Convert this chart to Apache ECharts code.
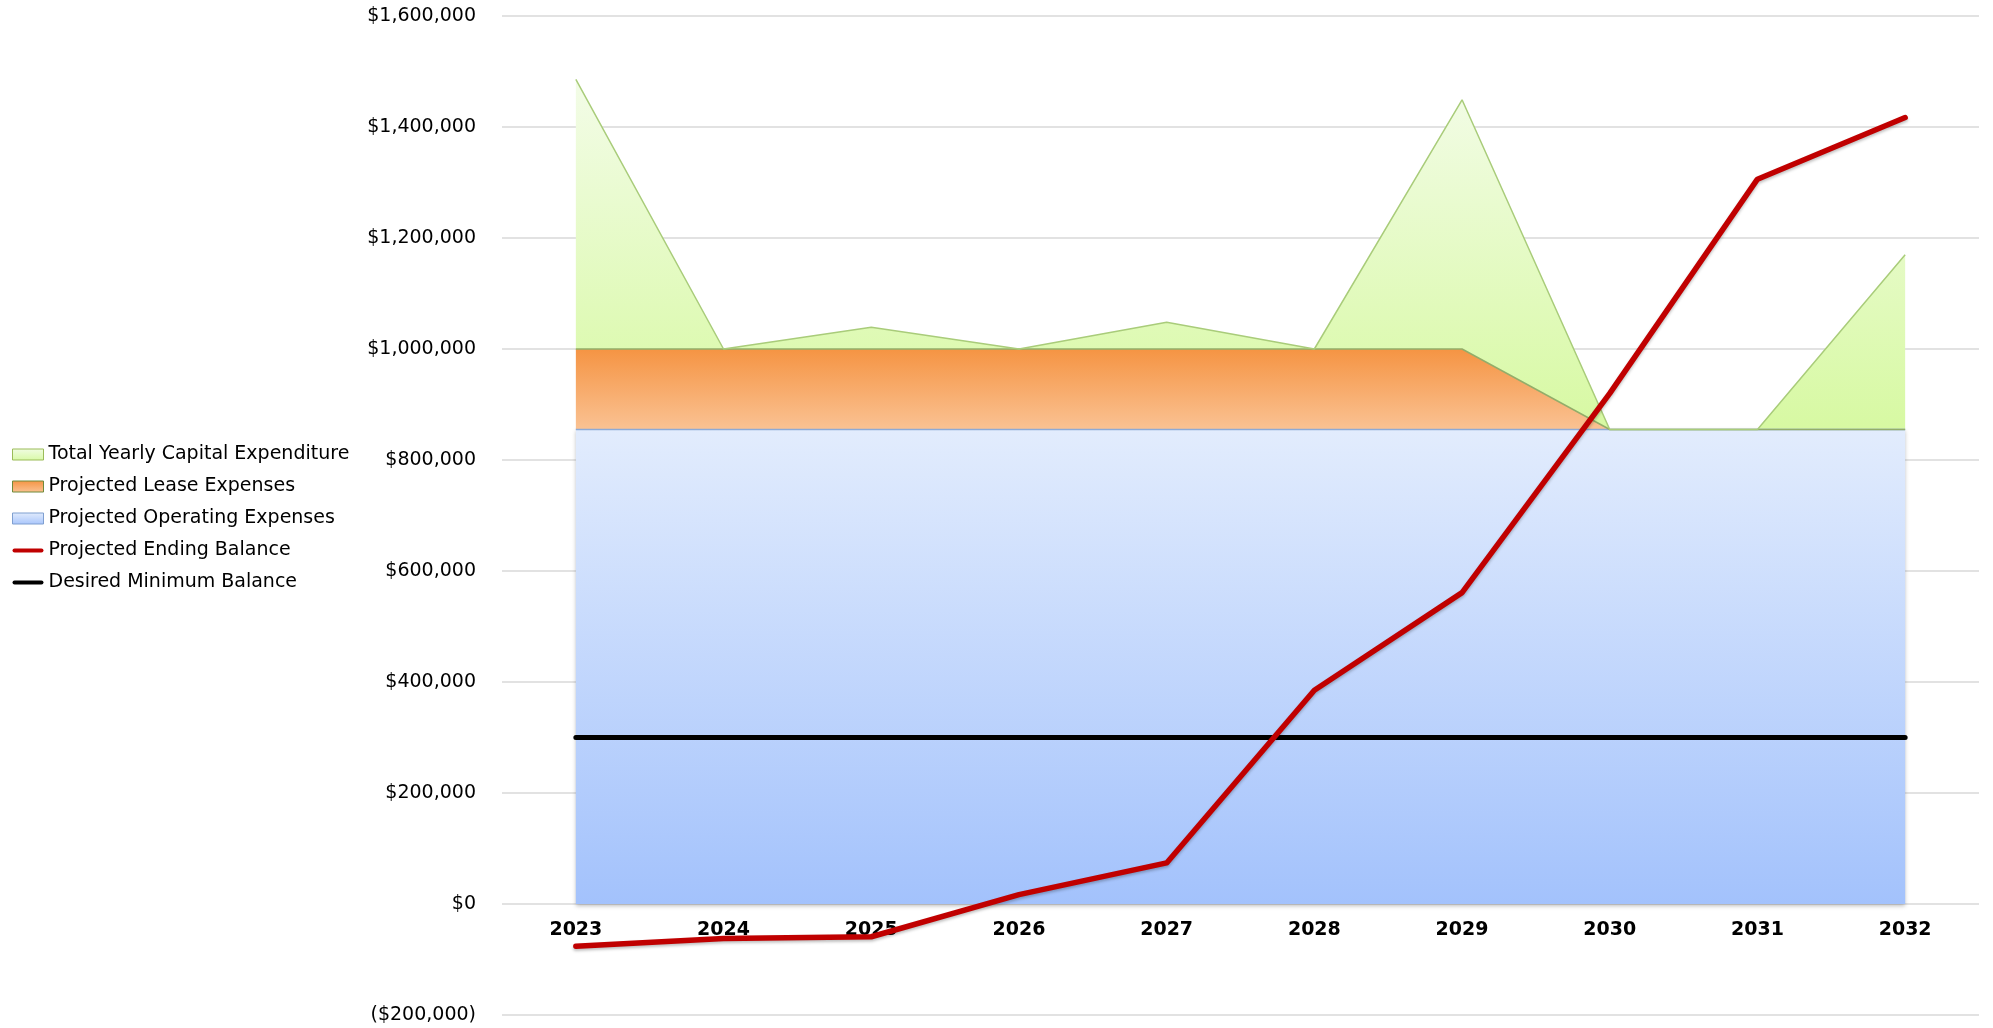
<!DOCTYPE html>
<html>
<head>
<meta charset="utf-8">
<script src="https://cdn.jsdelivr.net/npm/echarts@6/dist/echarts.min.js"></script>
<style>
  html, body { margin: 0; padding: 0; background: #fff; }
  #chart { width: 1993px; height: 1028px; }
</style>
</head>
<body>
<div id="chart"></div>
<script>
// Ten-year budget projection
const years = ['2023', '2024', '2025', '2026', '2027', '2028', '2029', '2030', '2031', '2032'];
const operatingExpenses = [855000, 855000, 855000, 855000, 855000, 855000, 855000, 855000, 855000, 855000];
const leaseExpenses = [145000, 145000, 145000, 145000, 145000, 145000, 145000, 0, 0, 0];
const capitalExpenditure = [486000, 0, 39000, 0, 48000, 0, 449000, 0, 0, 315000];
const endingBalance = [-76000, -62000, -59000, 17000, 74000, 385000, 561000, 920000, 1306000, 1417000];
const minimumBalance = [300000, 300000, 300000, 300000, 300000, 300000, 300000, 300000, 300000, 300000];

const FONT = '"DejaVu Sans", Verdana, sans-serif';
// thin bar with rounded ends, used as the legend swatch for line series
const LINE_ICON = 'path://M2,0 L28,0 A2,2 0 0 1 28,4 L2,4 A2,2 0 0 1 2,0 Z';

function vgrad(top, bottom) {
  return new echarts.graphic.LinearGradient(0, 0, 0, 1, [
    { offset: 0, color: top },
    { offset: 1, color: bottom }
  ]);
}

function money(v) {
  const s = '$' + Math.abs(v).toLocaleString('en-US');
  return v < 0 ? '(' + s + ')' : s;
}

const chart = echarts.init(document.getElementById('chart'), null, { renderer: 'canvas' });

chart.setOption({
  animation: false,
  backgroundColor: '#ffffff',
  grid: { left: 502, right: 14, top: 16, bottom: 13, containLabel: false, outerBoundsMode: 'none' },
  legend: {
    orient: 'vertical',
    left: 12,
    top: 445,
    padding: 0,
    itemGap: 13,
    itemWidth: 31,
    itemHeight: 11,
    symbolKeepAspect: true,
    textStyle: { fontFamily: FONT, fontSize: 19, color: '#000' },
    data: [
      { name: 'Total Yearly Capital Expenditure', icon: 'rect',
        itemStyle: { color: vgrad('#f1fce4', '#d8f9a6'), borderColor: '#9bbb59', borderWidth: 1 } },
      { name: 'Projected Lease Expenses', icon: 'rect',
        itemStyle: { color: vgrad('#f59443', '#fac293'), borderColor: '#6f8a3a', borderWidth: 1 } },
      { name: 'Projected Operating Expenses', icon: 'rect',
        itemStyle: { color: vgrad('#e2ecfd', '#a8c5fb'), borderColor: '#7f9fd0', borderWidth: 1 } },
      { name: 'Projected Ending Balance', icon: LINE_ICON,
        itemStyle: { color: '#c00000', borderWidth: 0 } },
      { name: 'Desired Minimum Balance', icon: LINE_ICON,
        itemStyle: { color: '#000000', borderWidth: 0 } }
    ]
  },
  xAxis: {
    type: 'category',
    data: years,
    boundaryGap: true,
    axisLine: { show: false, onZero: false },
    axisTick: { show: false },
    // year labels sit just under the $0 line rather than at the bottom edge
    axisLabel: { fontFamily: FONT, fontSize: 19, fontWeight: 'bold', color: '#000', margin: -94.5 },
    splitLine: { show: false }
  },
  yAxis: {
    type: 'value',
    min: -200000,
    max: 1600000,
    interval: 200000,
    axisLine: { show: false },
    axisTick: { show: false },
    axisLabel: { fontFamily: FONT, fontSize: 19, color: '#000', margin: 26, formatter: money },
    splitLine: { show: true, lineStyle: { color: '#d9d9d9', width: 1.5 } }
  },
  series: [
    {
      name: 'Projected Operating Expenses',
      type: 'line',
      stack: 'spend',
      data: operatingExpenses,
      symbol: 'none',
      z: 2,
      lineStyle: { color: '#8eaad6', width: 1.5 },
      itemStyle: { color: '#a8c5fb' },
      areaStyle: { color: vgrad('#e2ecfd', '#a3c2fc'), opacity: 1,
        shadowColor: 'rgba(0,0,0,0.25)', shadowBlur: 4, shadowOffsetY: 2 }
    },
    {
      name: 'Projected Lease Expenses',
      type: 'line',
      stack: 'spend',
      data: leaseExpenses,
      symbol: 'none',
      z: 2,
      lineStyle: { color: '#93ad6a', width: 1.5 },
      itemStyle: { color: '#f79646' },
      areaStyle: { color: vgrad('#f59443', '#fac293'), opacity: 1 }
    },
    {
      name: 'Total Yearly Capital Expenditure',
      type: 'line',
      stack: 'spend',
      data: capitalExpenditure,
      symbol: 'none',
      z: 2,
      lineStyle: { color: '#a9cc7a', width: 1.5 },
      itemStyle: { color: '#d8f9a6' },
      areaStyle: { color: vgrad('#f3fce8', '#d7f9a2'), opacity: 1 }
    },
    {
      name: 'Desired Minimum Balance',
      type: 'line',
      data: minimumBalance,
      symbol: 'none',
      z: 3,
      itemStyle: { color: '#000' },
      lineStyle: { color: '#000', width: 5, cap: 'round' }
    },
    {
      name: 'Projected Ending Balance',
      type: 'line',
      data: endingBalance,
      symbol: 'none',
      z: 4,
      itemStyle: { color: '#c00000' },
      lineStyle: { color: '#c00000', width: 5.5, cap: 'round', join: 'round',
        shadowColor: 'rgba(0,0,0,0.25)', shadowBlur: 3, shadowOffsetY: 2 }
    }
  ]
});
</script>
</body>
</html>
